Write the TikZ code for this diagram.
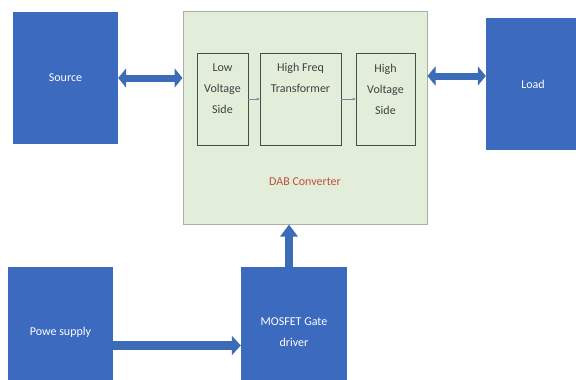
\documentclass[tikz,border=0pt]{standalone}
\usepackage{fontspec}
\setmainfont{Carlito}
\usetikzlibrary{arrows.meta}
\definecolor{bblue}{RGB}{59,106,190}
\definecolor{ablue}{RGB}{60,108,184}
\definecolor{dabfill}{RGB}{226,238,218}
\definecolor{dabline}{RGB}{168,174,168}
\definecolor{dabtext}{RGB}{192,80,60}
\definecolor{innerline}{RGB}{70,78,70}
\definecolor{smallarrow}{RGB}{110,140,170}
\begin{document}
\begin{tikzpicture}[x=1pt,y=-1pt,
  bluebox/.style={rectangle,fill=bblue,draw=none,text=white,align=center,
    font=\fontsize{12}{21}\selectfont},
  innerbox/.style={rectangle,fill=dabfill,draw=innerline,line width=0.9pt},
  innertext/.style={align=center,text=black!75,font=\fontsize{12}{21}\selectfont},
  bigarrow/.style={draw=ablue,line width=7pt},
  thinarrow/.style={draw=smallarrow,line width=0.8pt,-{Stealth[length=3pt,width=3pt]}}]
\useasboundingbox (0,0) rectangle (576,380);
\fill[white] (0,0) rectangle (576,380);
% main boxes
\node[bluebox,minimum width=105pt,minimum height=132pt] (src) at (65.5,78) {Source};
\node[bluebox,minimum width=94pt,minimum height=132pt] (load) at (533,84) {Load};
\node[bluebox,minimum width=105pt,minimum height=131pt] (pw) at (60.5,332.5) {Powe supply};
\node[bluebox,minimum width=106pt,minimum height=131pt] (mos) at (294,332.5) {MOSFET Gate\\driver};
% DAB converter
\node[rectangle,fill=dabfill,draw=dabline,line width=1pt,minimum width=244pt,minimum height=213pt] (dab) at (305,117.5) {};
\node[innerbox,minimum width=51pt,minimum height=92pt] (lv) at (222.5,99) {};
\node[innerbox,minimum width=81pt,minimum height=92pt] (hft) at (300.5,99) {};
\node[innerbox,minimum width=59pt,minimum height=92pt] (hv) at (385.5,99) {};
\node[innertext] (lvt) at (222.5,89) {Low\\Voltage\\Side};
\node[innertext] (hftt) at (300.5,78) {High Freq\\Transformer};
\node[innertext] (hvt) at (385.5,89) {High\\Voltage\\Side};
\node[text=dabtext,font=\fontsize{12}{14}\selectfont] (dabt) at (305,182) {DAB Converter};
% small arrows
\draw[thinarrow] (lv.east) -- (hft.west);
\draw[thinarrow] (hft.east) -- (hv.west);
% block arrows
\draw[bigarrow,{Triangle[length=8pt,width=19pt]}-{Triangle[length=8pt,width=19pt]}]
  (src.east) -- (src.east -| dab.west);
\draw[bigarrow,{Triangle[length=8pt,width=19pt]}-{Triangle[length=8pt,width=19pt]}]
  ([yshift=8pt]load.west -| dab.east) -- ([yshift=8pt]load.west);
\draw[bigarrow,line width=8pt,-{Triangle[length=12pt,width=17pt]}]
  ([xshift=-5pt]mos.north) -- ([xshift=-5pt]mos.north |- dab.south);
\draw[bigarrow,line width=9pt,-{Triangle[length=9pt,width=19pt]}]
  ([yshift=-13pt]pw.east) -- ([yshift=-13pt]pw.east -| mos.west);
\end{tikzpicture}
\end{document}
